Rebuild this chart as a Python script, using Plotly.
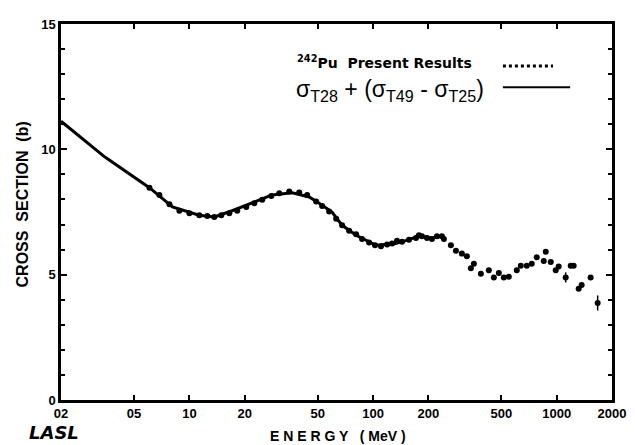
import plotly.graph_objects as go

# ---- data ----
# Present results (242Pu), energy in MeV, total cross section in barns
energy_meas = [6.06, 6.87, 7.79, 8.82, 10.0, 11.33, 12.52, 13.67, 14.92, 16.50,
               18.23, 20.40, 22.56, 24.94, 27.91, 30.85, 34.97, 39.62, 43.78, 49.0,
               52.83, 57.68, 62.95, 67.86, 74.09, 80.85, 87.15, 95.13, 102.5, 110.5,
               119.2, 126.9, 135.0, 143.8, 156.9, 171.3, 177.8, 184.6, 196.6, 209.3,
               222.8, 237.1, 243.1, 265.4, 282.6, 304.6, 324.3, 340.9, 354.0, 386.4,
               427.0, 454.7, 484.0, 515.2, 548.4, 606.2, 637.3, 687.1, 731.4, 778.6,
               850.2, 871.7, 928.0, 987.6, 1025, 1119, 1192, 1237, 1317, 1367,
               1530, 1671]
sigma_meas = [8.47, 8.18, 7.81, 7.55, 7.45, 7.37, 7.34, 7.30, 7.37, 7.45,
              7.55, 7.70, 7.85, 7.99, 8.14, 8.25, 8.32, 8.28, 8.18, 7.92,
              7.74, 7.52, 7.23, 6.97, 6.75, 6.61, 6.42, 6.28, 6.17, 6.13,
              6.20, 6.24, 6.35, 6.31, 6.39, 6.46, 6.57, 6.53, 6.46, 6.42,
              6.53, 6.53, 6.42, 6.17, 5.95, 5.84, 5.73, 5.26, 5.44, 5.04,
              5.18, 4.89, 5.07, 4.89, 4.92, 5.18, 5.36, 5.36, 5.44, 5.69,
              5.55, 5.91, 5.51, 5.18, 5.33, 4.89, 5.36, 5.36, 4.44, 4.59,
              4.89, 3.87]
sigma_err = [0.05] * 65 + [0.2] + [0.05] * 5 + [0.3]

# sigma_T28 + (sigma_T49 - sigma_T25)
energy_calc = [2.0, 3.47, 6.06, 8.09, 11.3, 13.7, 17.1, 22.0, 28.2, 36.3,
               44.9, 50.9, 59.8, 67.9, 80.9, 103.8, 133, 157, 178, 209, 237]
sigma_calc = [11.12, 9.69, 8.47, 7.70, 7.37, 7.30, 7.55, 7.88, 8.18, 8.27,
              8.10, 7.85, 7.50, 6.97, 6.57, 6.17, 6.24, 6.40, 6.55, 6.46, 6.53]

x_tickvals = [2, 5, 10, 20, 50, 100, 200, 500, 1000, 2000]
x_ticktext = ["02", "05", "10", "20", "50", "100", "200", "500", "1000", "2000"]
y_tickvals = [0, 5, 10, 15]

FONT = "Liberation Sans"

fig = go.Figure()
fig.add_trace(go.Scatter(
    x=energy_calc, y=sigma_calc, mode="lines",
    line=dict(color="black", width=3), showlegend=False, hoverinfo="skip"))
fig.add_trace(go.Scatter(
    x=energy_meas, y=sigma_meas, mode="markers",
    marker=dict(color="black", size=6, line=dict(width=0)),
    error_y=dict(type="data", array=sigma_err, color="black", thickness=1.5, width=0),
    showlegend=False))

# legend-like labels
fig.add_annotation(xref="paper", yref="paper", x=0.425, y=0.898, xanchor="left", yanchor="middle",
                   text="<b><sup>242</sup>Pu  Present Results</b>", showarrow=False,
                   font=dict(family="DejaVu Sans", size=14, color="black"))
fig.add_annotation(xref="paper", yref="paper", x=0.422, y=0.822, xanchor="left", yanchor="middle",
                   text="σ<sub>T28</sub> + (σ<sub>T49</sub> - σ<sub>T25</sub>)", showarrow=False,
                   font=dict(family=FONT, size=23, color="black"))
fig.add_shape(type="line", xref="paper", yref="paper", x0=0.802, x1=0.893, y0=0.888, y1=0.888,
              line=dict(color="black", width=3, dash="dot"))
fig.add_shape(type="line", xref="paper", yref="paper", x0=0.802, x1=0.924, y0=0.832, y1=0.832,
              line=dict(color="black", width=2))

# axis titles and logo
fig.add_annotation(xref="paper", yref="paper", x=-0.0708, y=0.52, textangle=-90,
                   xanchor="center", yanchor="middle",
                   text="<b>CROSS  SECTION  (b)</b>", showarrow=False,
                   font=dict(family=FONT, size=16, color="black"))
fig.add_annotation(xref="paper", yref="paper", x=0.502, y=-0.097,
                   xanchor="center", yanchor="middle",
                   text="<b>E N E R G Y   ( MeV )</b>", showarrow=False,
                   font=dict(family=FONT, size=14, color="black"))
fig.add_annotation(xref="paper", yref="paper", x=-0.013, y=-0.086,
                   xanchor="center", yanchor="middle",
                   text="<b><i>LASL</i></b>", showarrow=False,
                   font=dict(family="DejaVu Sans", size=18, color="black"))

fig.update_xaxes(type="log", range=[0.30103, 3.30103],
                 tickvals=x_tickvals, ticktext=x_ticktext,
                 ticks="inside", ticklen=5, tickwidth=1.5, tickcolor="black",
                 showline=True, linecolor="black", linewidth=2.5, mirror="ticks",
                 showgrid=False, zeroline=False,
                 tickfont=dict(family=FONT, size=13, color="black", weight="bold"))
fig.update_yaxes(range=[0, 15], tickvals=y_tickvals,
                 ticks="inside", ticklen=6, tickwidth=1.5, tickcolor="black",
                 minor=dict(dtick=1, ticks="inside", ticklen=4, tickcolor="black", tickwidth=1.5),
                 showline=True, linecolor="black", linewidth=2.5, mirror="ticks",
                 showgrid=False, zeroline=False,
                 tickfont=dict(family=FONT, size=13, color="black", weight="bold"))

# the page adds an 8 px body margin, so the figure is 8 px smaller and shifted
fig.update_layout(width=627, height=437,
                  margin=dict(l=53, r=23, t=9, b=45),
                  paper_bgcolor="white", plot_bgcolor="white",
                  font=dict(family=FONT, color="black"))

fig.write_html("out.html")
